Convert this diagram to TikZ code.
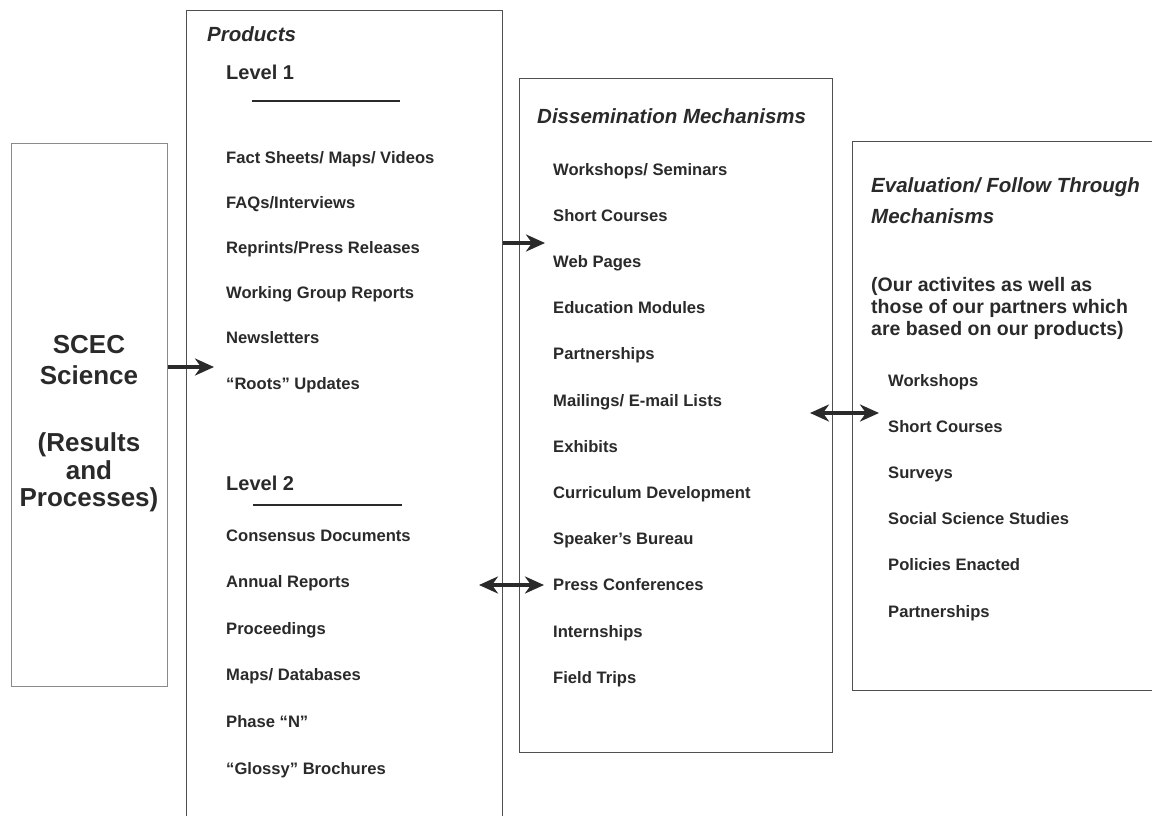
\documentclass[tikz,border=0pt]{standalone}
\usepackage{fontspec}
\setmainfont{Liberation Sans}
\usetikzlibrary{arrows.meta}
\definecolor{ink}{HTML}{2A2A2A}
\definecolor{edge}{HTML}{505050}
\definecolor{lightedge}{HTML}{8A8A8A}
\begin{document}
\begin{tikzpicture}[x=1pt,y=-1pt,
  boxst/.style={draw=edge, line width=1.4pt, inner sep=0pt, anchor=north west},
  item/.style={anchor=base west, inner sep=0pt, text=ink, font=\bfseries\fontsize{16.6}{19}\selectfont},
  head/.style={anchor=base west, inner sep=0pt, text=ink, font=\bfseries\itshape\fontsize{20.5}{24}\selectfont},
  levelst/.style={anchor=base west, inner sep=0pt, text=ink, font=\bfseries\fontsize{20}{24}\selectfont},
  note/.style={anchor=base west, inner sep=0pt, text=ink, font=\bfseries\fontsize{19.5}{22}\selectfont},
  big/.style={anchor=base, inner sep=0pt, text=ink, font=\bfseries\fontsize{26}{30}\selectfont},
  rule/.style={draw=ink, line width=2pt},
  tip/.style={},
  arr/.style={draw=ink, line width=3.6pt, -{Stealth[length=19pt,width=17pt,inset=6pt]}},
  darr/.style={draw=ink, line width=3.6pt, {Stealth[length=19pt,width=17pt,inset=6pt]}-{Stealth[length=19pt,width=17pt,inset=6pt]}}
]
\useasboundingbox (0,0) rectangle (1152,816);
\clip (0,0) rectangle (1152,816);
\fill[white] (0,0) rectangle (1152,816);

% boxes
\node[boxst, draw=lightedge, line width=1.2pt, minimum width=156pt, minimum height=543pt] (scec) at (11,143) {};
\node[boxst, minimum width=316pt, minimum height=830pt] (prod) at (186,10) {};
\node[boxst, minimum width=313pt, minimum height=674pt] (diss) at (519,78) {};
\node[boxst, minimum width=320pt, minimum height=549pt] (eval) at (852,141) {};

% SCEC text
\node[big] (s1) at (89,353.5) {SCEC};
\node[big] (s2) at (89,384.5) {Science};
\node[big] (s3) at (89,451.5) {(Results};
\node[big] (s4) at (89,479) {and};
\node[big] (s5) at (89,506.5) {Processes)};

% Products
\node[head] (ph) at (207,42) {Products};
\node[levelst] (l1) at (226,80) {Level 1};
\coordinate (u1a) at (252,101); \coordinate (u1b) at (400,101);
\draw[rule] (u1a) -- (u1b);
\foreach \t [count=\i] in {Fact Sheets/ Maps/ Videos, FAQs/Interviews, Reprints/Press Releases, Working Group Reports, Newsletters, ``Roots'' Updates}
  \node[item] (pa\i) at (226, {163 + (\i-1)*45.2}) {\t};
\node[levelst] (l2) at (226,490) {Level 2};
\coordinate (u2a) at (253,505); \coordinate (u2b) at (402,505);
\draw[rule] (u2a) -- (u2b);
\foreach \t [count=\i] in {Consensus Documents, Annual Reports, Proceedings, Maps/ Databases, Phase ``N'', ``Glossy'' Brochures}
  \node[item] (pb\i) at (226, {541 + (\i-1)*46.6}) {\t};

% Dissemination
\node[head] (dh) at (537,124) {Dissemination Mechanisms};
\foreach \t [count=\i] in {Workshops/ Seminars, Short Courses, Web Pages, Education Modules, Partnerships, Mailings/ E-mail Lists, Exhibits, Curriculum Development, Speaker's Bureau, Press Conferences, Internships, Field Trips}
  \node[item] (d\i) at (553, {175 + (\i-1)*46.2}) {\t};

% Evaluation
\node[head] (eh1) at (871,192) {Evaluation/ Follow Through};
\node[head] (eh2) at (871,223) {Mechanisms};
\node[note] (n1) at (871,291) {(Our activites as well as};
\node[note] (n2) at (871,313) {those of our partners which};
\node[note] (n3) at (871,335) {are based on our products)};
\foreach \t [count=\i] in {Workshops, Short Courses, Surveys, Social Science Studies, Policies Enacted, Partnerships}
  \node[item] (e\i) at (888, {386 + (\i-1)*46.2}) {\t};

% arrows
\coordinate (a1) at (214,367);
\draw[arr] (scec.east |- a1) -- (a1);
\coordinate (a2) at (545,243);
\draw[arr] (prod.east |- a2) -- (a2);
\coordinate (a3s) at (479,585); \coordinate (a3e) at (544,585);
\draw[darr] (a3s) -- (a3e);
\coordinate (a4s) at (810,413); \coordinate (a4e) at (879,413);
\draw[darr] (a4s) -- (a4e);
\end{tikzpicture}
\end{document}
